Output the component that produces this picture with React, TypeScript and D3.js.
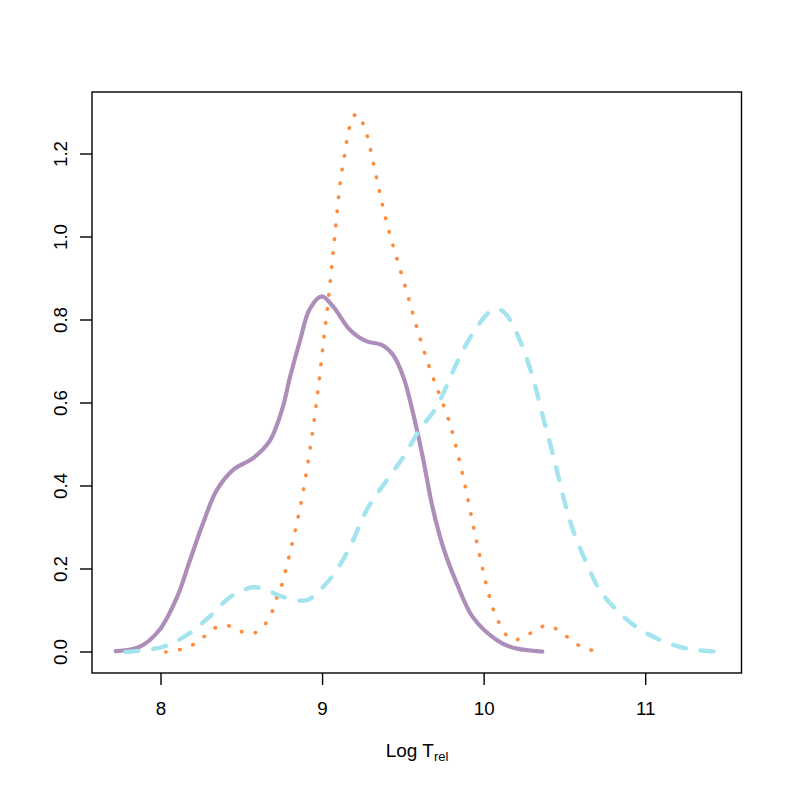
import React from "react";
import * as d3 from "d3";

const purpleX = [7.72, 7.87, 7.99, 8.10, 8.18, 8.26, 8.345, 8.45, 8.57, 8.675, 8.75, 8.80, 8.86, 8.92, 8.995, 9.066, 9.17, 9.27, 9.366, 9.436, 9.50, 9.56, 9.62, 9.68, 9.746, 9.83, 9.93, 10.077, 10.18, 10.36];
const purpleY = [0.002, 0.013, 0.053, 0.133, 0.222, 0.31, 0.39, 0.44, 0.467, 0.51, 0.585, 0.665, 0.75, 0.826, 0.857, 0.832, 0.776, 0.749, 0.74, 0.716, 0.663, 0.576, 0.47, 0.35, 0.253, 0.166, 0.084, 0.029, 0.01, 0.001];

const cyanX = [7.78, 8.01, 8.16, 8.30, 8.43, 8.57, 8.654, 8.755, 8.90, 9.025, 9.15, 9.273, 9.397, 9.50, 9.60, 9.706, 9.83, 9.93, 10.036, 10.09, 10.14, 10.22, 10.30, 10.364, 10.43, 10.49, 10.55, 10.634, 10.716, 10.82, 10.94, 11.09, 11.27, 11.46];
const cyanY = [0.0, 0.012, 0.041, 0.085, 0.133, 0.156, 0.149, 0.133, 0.125, 0.166, 0.238, 0.342, 0.414, 0.47, 0.535, 0.591, 0.696, 0.768, 0.82, 0.826, 0.812, 0.752, 0.663, 0.567, 0.47, 0.374, 0.294, 0.214, 0.149, 0.101, 0.061, 0.029, 0.007, 0.001];

const orangeX = [8.03, 8.11, 8.196, 8.266, 8.334, 8.42, 8.50, 8.58, 8.644, 8.687, 8.716, 8.747, 8.79, 8.83, 8.866, 8.897, 8.924, 8.949, 8.97, 9.005, 9.04, 9.075, 9.11, 9.137, 9.17, 9.21, 9.254, 9.28, 9.318, 9.355, 9.394, 9.44, 9.49, 9.539, 9.586, 9.638, 9.695, 9.726, 9.786, 9.83, 9.87, 9.906, 9.94, 9.978, 10.017, 10.067, 10.153, 10.19, 10.236, 10.31, 10.39, 10.47, 10.537, 10.61, 10.694];
const orangeY = [0.0, 0.005, 0.017, 0.037, 0.058, 0.063, 0.049, 0.046, 0.067, 0.097, 0.13, 0.161, 0.226, 0.292, 0.358, 0.426, 0.494, 0.561, 0.627, 0.745, 0.865, 1.0, 1.134, 1.20, 1.268, 1.297, 1.27, 1.238, 1.172, 1.105, 1.039, 0.974, 0.909, 0.843, 0.778, 0.713, 0.649, 0.618, 0.553, 0.488, 0.422, 0.356, 0.289, 0.223, 0.157, 0.092, 0.034, 0.03, 0.033, 0.051, 0.064, 0.05, 0.029, 0.011, 0.002];

const xTicks = [8, 9, 10, 11];
const yTicks = [0, 0.2, 0.4, 0.6, 0.8, 1.0, 1.2];

const FONT = "'Liberation Sans', Arial, Helvetica, sans-serif";

export default function App() {
  const W = 789, H = 789;
  const box = { left: 92, right: 741.5, top: 92, bottom: 673 };
  const x = d3.scaleLinear().domain([8, 11]).range([161, 645.7]);
  const y = d3.scaleLinear().domain([0, 1.2]).range([652, 154]);

  const line = d3
    .line<[number, number]>()
    .x((d) => x(d[0]))
    .y((d) => y(d[1]))
    .curve(d3.curveCatmullRom.alpha(0.5));

  const zip = (xs: number[], ys: number[]) => xs.map((v, i) => [v, ys[i]] as [number, number]);

  return (
    <svg width={W} height={H} style={{ position: "absolute", left: 0, top: 0 }} fontFamily={FONT}>
      <rect x={0} y={0} width={W} height={H} fill="#ffffff" />
      <path d={line(zip(purpleX, purpleY)) || ""} fill="none" stroke="#AD8EBA" strokeWidth={4.2} strokeLinejoin="round" strokeLinecap="round" />
      <path d={line(zip(orangeX, orangeY)) || ""} fill="none" stroke="#FF8B3D" strokeWidth={3.6} strokeDasharray="0.5 13.5" strokeLinecap="round" />
      <path d={line(zip(cyanX, cyanY)) || ""} fill="none" stroke="#A3E4EF" strokeWidth={4.4} strokeDasharray="13 15" strokeLinecap="round" />

      <rect x={box.left} y={box.top} width={box.right - box.left} height={box.bottom - box.top} fill="none" stroke="#000" strokeWidth={1.4} />

      {xTicks.map((t) => (
        <g key={"x" + t}>
          <line x1={x(t)} x2={x(t)} y1={box.bottom} y2={box.bottom + 12} stroke="#000" strokeWidth={1.4} />
          <text x={x(t)} y={715} textAnchor="middle" fontSize={18.8} fill="#000">
            {String(t)}
          </text>
        </g>
      ))}
      {yTicks.map((t) => (
        <g key={"y" + t}>
          <line x1={box.left - 12} x2={box.left} y1={y(t)} y2={y(t)} stroke="#000" strokeWidth={1.4} />
          <text transform={`translate(66.5,${y(t)}) rotate(-90)`} textAnchor="middle" fontSize={18.8} fill="#000">
            {t.toFixed(1)}
          </text>
        </g>
      ))}

      <text x={417} y={756.5} textAnchor="middle" fontSize={19} fill="#000">
        Log T
        <tspan fontSize={13} dy={4}>rel</tspan>
      </text>
    </svg>
  );
}
